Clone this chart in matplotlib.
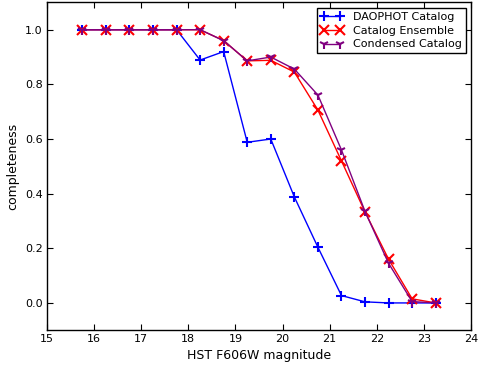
import matplotlib
matplotlib.use("Agg")
import matplotlib.pyplot as plt

mags = [15.75, 16.25, 16.75, 17.25, 17.75, 18.25, 18.75, 19.25,
        19.75, 20.25, 20.75, 21.25, 21.75, 22.25, 22.75, 23.25]
daophot = [1.0, 1.0, 1.0, 1.0, 1.0, 0.889, 0.92, 0.588,
           0.600, 0.388, 0.204, 0.027, 0.004, 0.0, 0.0, 0.0]
ensemble = [1.0, 1.0, 1.0, 1.0, 1.0, 1.0, 0.96, 0.886,
            0.888, 0.845, 0.706, 0.52, 0.333, 0.16, 0.015, 0.0]
condensed = [1.0, 1.0, 1.0, 1.0, 1.0, 1.0, 0.96, 0.886,
             0.90, 0.856, 0.761, 0.56, 0.335, 0.145, 0.005, 0.0]

plt.rcParams['font.family'] = 'DejaVu Sans'
plt.rcParams['font.size'] = 8
plt.rcParams['xtick.direction'] = 'in'
plt.rcParams['ytick.direction'] = 'in'
plt.rcParams['xtick.top'] = True
plt.rcParams['ytick.right'] = True
plt.rcParams['xtick.major.size'] = 4
plt.rcParams['ytick.major.size'] = 4
plt.rcParams['xtick.major.pad'] = 3
plt.rcParams['ytick.major.pad'] = 3
plt.rcParams['axes.linewidth'] = 1.0

fig = plt.figure(figsize=(4.78, 3.69), dpi=100)
ax = fig.add_axes([0.0983, 0.105, 0.8871, 0.8885])

ax.plot(mags, daophot, color='blue', marker='+', markersize=6.5, mew=1.5, lw=1, label='DAOPHOT Catalog')
ax.plot(mags, ensemble, color='red', marker='x', markersize=7, mew=1.5, lw=1, label='Catalog Ensemble')
ax.plot(mags, condensed, color='purple', marker='1', markersize=6.5, mew=1.5, lw=1, label='Condensed Catalog')

ax.set_xlim(15, 24)
ax.set_ylim(-0.1, 1.1)
ax.set_xticks(range(15, 25))
ax.set_yticks([0.0, 0.2, 0.4, 0.6, 0.8, 1.0])
ax.set_xlabel('HST F606W magnitude', fontsize=9, labelpad=3)
ax.set_ylabel('completeness', fontsize=9, labelpad=4)

leg = ax.legend(loc='upper right', numpoints=2, fancybox=False, framealpha=1,
                edgecolor='black', fontsize=8, borderpad=0.35, labelspacing=0.35,
                handlelength=2.0, handletextpad=0.9, borderaxespad=0.48)
leg.get_frame().set_linewidth(1.0)

fig.savefig('out.png', dpi=100)
